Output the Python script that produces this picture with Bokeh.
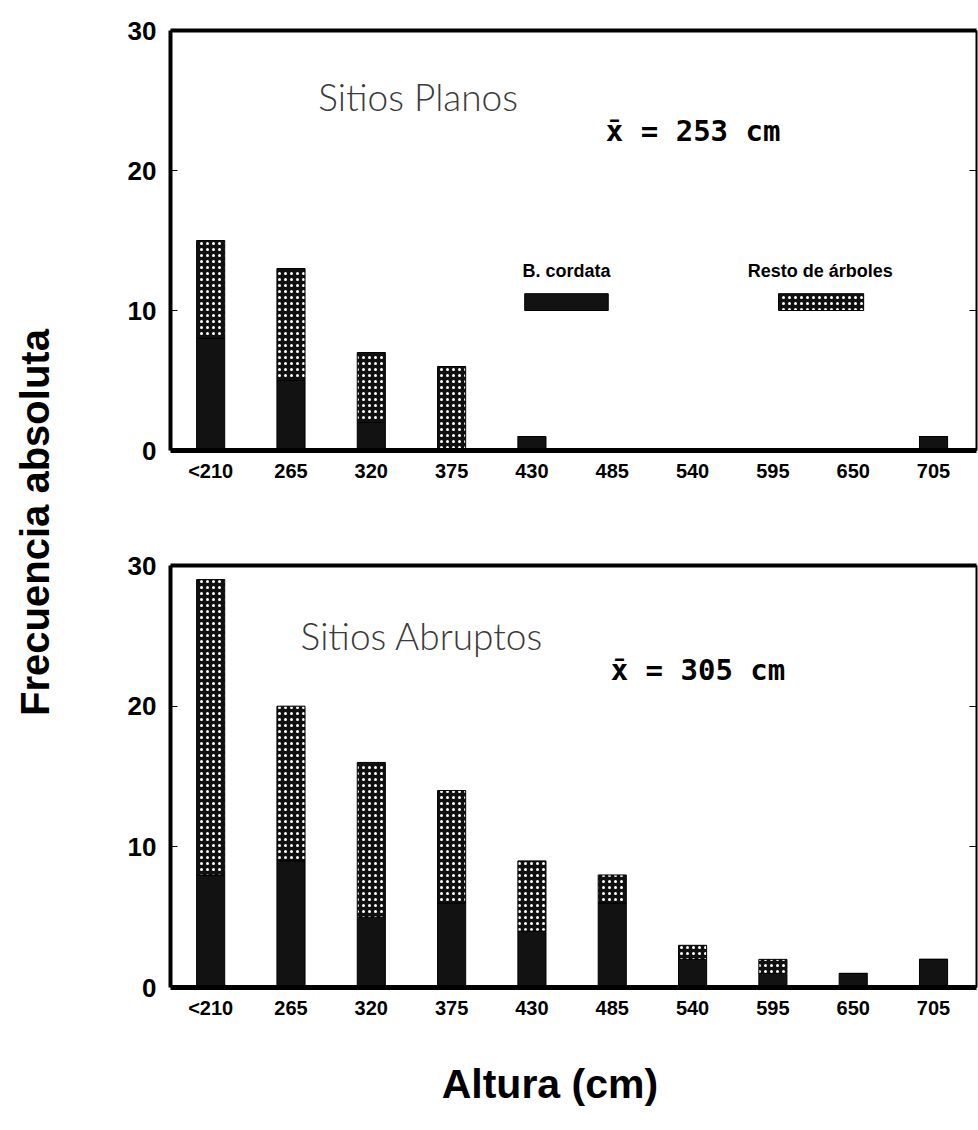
import math
from bokeh.plotting import figure
from bokeh.layouts import row, column
from bokeh.models import Range1d, FixedTicker, LinearAxis, Label
from bokeh.embed import file_html
from bokeh.resources import INLINE

# Height classes (cm) and tree counts per class
classes = ["<210", "265", "320", "375", "430", "485", "540", "595", "650", "705"]
planos_cordata = [8, 5, 2, 0, 1, 0, 0, 0, 0, 1]
planos_total = [15, 13, 7, 6, 1, 0, 0, 0, 0, 1]
abruptos_cordata = [8, 9, 5, 6, 4, 6, 2, 1, 1, 2]
abruptos_total = [29, 20, 16, 14, 9, 8, 3, 2, 1, 2]
mean_planos = 253
mean_abruptos = 305
y_ticks = [0, 10, 20, 30]

SANS = "Liberation Sans"
LIGHT = "'Lato Light', 'Roboto Light', 'Open Sans Light', Lato, sans-serif"
MONO = "DejaVu Sans Mono"

DARK = "#121212"
HATCH = dict(fill_color="#101010", hatch_pattern="dot", hatch_color="white",
             hatch_scale=6, hatch_weight=1.8, line_color="black", line_width=1)


def panel(cordata, total, name, mean, name_pos, mean_pos, top_border, bottom_border,
          frame_h, legend=False):
    xs = list(range(len(classes)))
    p = figure(width=888, height=top_border + frame_h + bottom_border,
               x_range=Range1d(-0.5, 9.535), y_range=Range1d(0, 30),
               output_backend="svg", toolbar_location=None,
               min_border_left=80, min_border_right=2,
               min_border_top=top_border, min_border_bottom=bottom_border)
    p.grid.visible = False
    p.outline_line_color = None
    p.background_fill_color = "white"
    p.border_fill_color = "white"

    # B. cordata at the base, the other trees stacked above
    p.vbar(x=xs, width=0.35, bottom=0, top=cordata, fill_color=DARK,
           line_color="black", line_width=1)
    p.vbar(x=xs, width=0.35, bottom=cordata, top=total, **HATCH)

    # axes
    xa = p.xaxis[0]
    xa.ticker = FixedTicker(ticks=xs)
    xa.major_label_overrides = {i: c for i, c in enumerate(classes)}
    xa.major_tick_in = 0
    xa.major_tick_out = 0
    xa.minor_tick_line_color = None
    xa.axis_line_width = 5
    xa.major_label_text_font = SANS
    xa.major_label_text_font_style = "bold"
    xa.major_label_text_font_size = "20px"
    xa.major_label_text_color = "black"
    xa.major_label_standoff = 9

    ya = p.yaxis[0]
    ya.ticker = FixedTicker(ticks=y_ticks)
    ya.major_tick_in = 7
    ya.major_tick_out = 0
    ya.minor_tick_line_color = None
    ya.axis_line_width = 4
    ya.major_label_text_font = SANS
    ya.major_label_text_font_style = "bold"
    ya.major_label_text_font_size = "26px"
    ya.major_label_text_color = "black"
    ya.major_label_standoff = 14

    # frame: tick marks on the right edge, plain heavy line on top
    right = LinearAxis(ticker=FixedTicker(ticks=y_ticks), major_tick_in=7,
                       major_tick_out=0, minor_tick_line_color=None,
                       major_label_overrides={t: "" for t in y_ticks},
                       major_label_standoff=0, axis_line_width=2)
    p.add_layout(right, "right")
    above = LinearAxis(ticker=FixedTicker(ticks=[]),
                       major_tick_in=0, major_tick_out=0, minor_tick_line_color=None,
                       major_label_standoff=0, axis_line_width=4)
    p.add_layout(above, "above")

    p.add_layout(Label(x=name_pos[0], y=name_pos[1], text=name, text_font=LIGHT,
                       text_font_size="37px", text_color="#3a3a3a",
                       text_baseline="alphabetic"))
    p.add_layout(Label(x=mean_pos[0], y=mean_pos[1], text=f"x\u0304 = {mean} cm",
                       text_font=MONO, text_font_style="bold", text_font_size="29px",
                       text_color="black", text_baseline="alphabetic"))

    if legend:
        p.quad(left=[3.91], right=[4.95], bottom=[10.0], top=[11.2],
               fill_color=DARK, line_color="black")
        p.quad(left=[7.07], right=[8.13], bottom=[10.0], top=[11.2], **HATCH)
        for lx, txt in [(4.43, "B. cordata"), (7.59, "Resto de árboles")]:
            p.add_layout(Label(x=lx, y=12.8, text=txt, text_font=SANS,
                               text_font_style="bold", text_font_size="18px",
                               text_color="black",
                               text_align="center", text_baseline="middle"))
    return p


top = panel(planos_cordata, planos_total, "Sitios Planos", mean_planos,
            (1.34, 25.3), (4.92, 22.8), 30, 50, 420, legend=True)
bottom = panel(abruptos_cordata, abruptos_total, "Sitios Abruptos", mean_abruptos,
               (1.12, 25.0), (4.98, 22.6), 65, 43, 422)


def text_strip(width, height):
    s = figure(width=width, height=height, x_range=Range1d(0, width),
               y_range=Range1d(0, height), output_backend="svg",
               toolbar_location=None, min_border=0)
    s.axis.visible = False
    s.grid.visible = False
    s.outline_line_color = None
    return s


# x-axis title under the lower panel
xtitle = text_strip(888, 100)
xtitle.add_layout(Label(x=418, y=47, text="Altura (cm)", text_font=SANS,
                        text_font_style="bold", text_font_size="41px",
                        text_color="black", text_align="center",
                        text_baseline="alphabetic"))

# shared y-axis title in a narrow strip on the left
side = text_strip(90, 1130)
side.add_layout(Label(x=34, y=608, text="Frecuencia absoluta", angle=math.pi / 2,
                      text_font=SANS, text_font_style="bold", text_font_size="40px",
                      text_color="black",
                      text_align="center", text_baseline="middle"))

layout = row(side, column(top, bottom, xtitle, spacing=0), spacing=0)

with open("out.html", "w") as f:
    f.write(file_html(layout, INLINE))
